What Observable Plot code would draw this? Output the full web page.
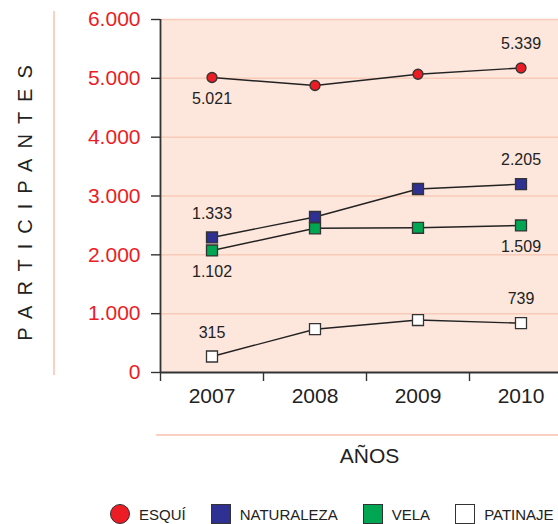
<!DOCTYPE html>
<html>
<head>
<meta charset="utf-8">
<script src="https://cdn.jsdelivr.net/npm/d3@7"></script>
<script src="https://cdn.jsdelivr.net/npm/@observablehq/plot@0.6"></script>
<style>
  html, body { margin: 0; padding: 0; background: #ffffff; }
  body { width: 558px; height: 524px; overflow: hidden; font-family: "Liberation Sans", Arial, sans-serif; }
  #wrap { position: relative; width: 558px; height: 524px; }
  .deco { position: absolute; background: #f9d0c1; }
  #legend { position: absolute; left: 0; top: 490px; width: 558px; height: 34px; display: flex; align-items: flex-start; padding-left: 110px; padding-top: 14px; box-sizing: border-box; }
  .item { display: flex; align-items: center; margin-right: 25px; }
  .sw { width: 18px; height: 18px; border: 1.3px solid #333; box-sizing: content-box; }
  .lab { margin-left: 9px; font-size: 15px; color: #222; }
</style>
</head>
<body>
<div id="wrap">
  <div class="deco" style="left:53px; top:11px; width:1.5px; height:364px;"></div>
  <div class="deco" style="left:156px; top:434px; width:402px; height:2px;"></div>
  <div id="chart"></div>
  <div id="legend"></div>
</div>
<script>
// ---- data ----
const years = [2007, 2008, 2009, 2010];
const seriesNames = ["ESQUÍ", "NATURALEZA", "VELA", "PATINAJE"];
const esqui = [5014, 4878, 5069, 5176];
const naturaleza = [2295, 2643, 3119, 3201];
const vela = [2074, 2451, 2460, 2499];
const patinaje = [272, 736, 892, 838];
const yTicks = [0, 1000, 2000, 3000, 4000, 5000, 6000];
const xDomain = [2006.5, 2010.5];
const xBoundaries = [2006.5, 2007.5, 2008.5, 2009.5];
// value labels shown on the chart
const labelSeries = ["ESQUÍ", "ESQUÍ", "NATURALEZA", "NATURALEZA", "VELA", "VELA", "PATINAJE", "PATINAJE"];
const labelYears = [2007, 2010, 2007, 2010, 2007, 2010, 2007, 2010];
const labelTexts = ["5.021", "5.339", "1.333", "2.205", "1.102", "1.509", "315", "739"];
const labelSide = ["below", "above", "above", "above", "below", "below", "above", "above"];

// ---- styles ----
const seriesColors = {"ESQUÍ": "#ec1c24", "NATURALEZA": "#2e3192", "VELA": "#00a651", "PATINAJE": "#ffffff"};
const seriesSymbols = {"ESQUÍ": "circle", "NATURALEZA": "square", "VELA": "square", "PATINAJE": "square"};

const valuesBySeries = {"ESQUÍ": esqui, "NATURALEZA": naturaleza, "VELA": vela, "PATINAJE": patinaje};
const rows = seriesNames.flatMap(s => years.map((year, i) => ({series: s, year, value: valuesBySeries[s][i]})));
const labels = labelTexts.map((text, i) => ({
  text, side: labelSide[i], year: labelYears[i],
  value: valuesBySeries[labelSeries[i]][years.indexOf(labelYears[i])]
}));

const fmt = d3.formatLocale({decimal: ",", thousands: ".", grouping: [3], currency: ["", ""]}).format(",d");

const dotMarks = seriesNames.map(s => Plot.dot(rows.filter(d => d.series === s), {
  x: "year", y: "value",
  symbol: seriesSymbols[s],
  r: seriesSymbols[s] === "circle" ? 5 : 6.2,
  fill: seriesColors[s], stroke: "#333", strokeWidth: 1.3
}));

const chart = Plot.plot({
  width: 558, height: 490,
  marginTop: 19, marginBottom: 118, marginLeft: 160, marginRight: 0,
  style: {fontFamily: "'Liberation Sans', Arial, sans-serif", background: "transparent", overflow: "visible"},
  x: {type: "linear", domain: xDomain, range: [160, 572], axis: null},
  y: {domain: [0, 6000], axis: null},
  marks: [
    Plot.frame({fill: "#fde6dc", stroke: null}),
    Plot.ruleY(yTicks.filter(d => d > 0), {stroke: "#f8cbb8", strokeWidth: 1.5}),
    Plot.ruleX([xDomain[0]], {stroke: "#333", strokeWidth: 1.8}),
    Plot.ruleY([0], {stroke: "#333", strokeWidth: 1.8}),
    Plot.axisY({ticks: yTicks, tickSize: 9, tickPadding: 11, tickFormat: fmt, stroke: "#333", strokeWidth: 1.4, fill: "#ec1c24", fontSize: 21, label: null}),
    Plot.axisX({ticks: xBoundaries, tickSize: 9, tickFormat: () => "", stroke: "#333", strokeWidth: 1.4, label: null}),
    Plot.axisX({ticks: years, tickSize: 0, tickPadding: 16, tickFormat: d => String(d), fill: "#222", fontSize: 21, label: null}),
    Plot.line(rows, {x: "year", y: "value", z: "series", stroke: "#222", strokeWidth: 1.4}),
    ...dotMarks,
    Plot.text(labels.filter(d => d.side === "above"), {x: "year", y: "value", text: "text", dy: -24, fontSize: 16, fill: "#222"}),
    Plot.text(labels.filter(d => d.side === "below"), {x: "year", y: "value", text: "text", dy: 21, fontSize: 16, fill: "#222"}),
    Plot.text(["PARTICIPANTES"], {text: d => d, frameAnchor: "left", dx: -135, dy: 2, rotate: -90, fontSize: 20, fill: "#222", textAnchor: "middle", lineAnchor: "middle"}),
    Plot.text(["AÑOS"], {text: d => d, frameAnchor: "bottom", dx: 10, dy: 84, fontSize: 21, fill: "#222", textAnchor: "middle", lineAnchor: "middle"})
  ]
});
chart.querySelectorAll("text").forEach(t => {
  if (t.textContent === "PARTICIPANTES") t.setAttribute("letter-spacing", "10");
});
document.getElementById("chart").appendChild(chart);

// ---- legend ----
const legend = document.getElementById("legend");
seriesNames.forEach(s => {
  const item = document.createElement("div");
  item.className = "item";
  const sw = document.createElement("div");
  sw.className = "sw";
  sw.style.background = seriesColors[s];
  if (seriesSymbols[s] === "circle") sw.style.borderRadius = "50%";
  const lab = document.createElement("span");
  lab.className = "lab";
  lab.textContent = s;
  item.appendChild(sw);
  item.appendChild(lab);
  legend.appendChild(item);
});
</script>
</body>
</html>
